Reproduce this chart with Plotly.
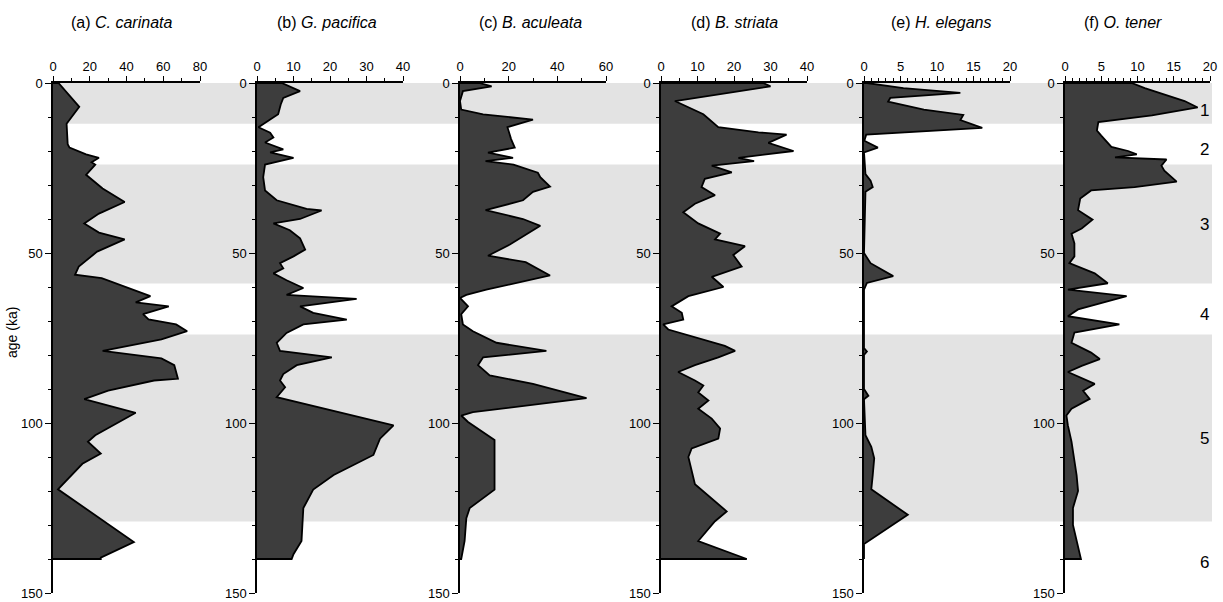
import plotly.graph_objects as go

W, H = 1223, 602

# ---------------- data (age in ka, abundance in %) ----------------
titles = ["(a) <i>C. carinata</i>", "(b) <i>G. pacifica</i>", "(c) <i>B. aculeata</i>",
          "(d) <i>B. striata</i>", "(e) <i>H. elegans</i>", "(f) <i>O. tener</i>"]
x_max = [80, 40, 60, 40, 20, 20]
x_dtick = [20, 10, 20, 10, 5, 5]
x_minor = [10, 5, 10, 5, 1, 1]

a_age = [0, 7, 12, 18, 19, 21, 22, 23.3, 24, 27, 31, 35, 38.4, 41.3, 44, 46, 49.6, 54, 56.4, 57.4,
         60, 62.7, 64.5, 65.7, 68, 69.5, 71, 73, 75.4, 78.8, 81, 83, 87, 87.5, 90.5, 93, 97, 103.6,
         105.5, 109, 112, 119.5, 135, 139.6, 140]
a_val = [3, 14.3, 7.4, 8, 9, 18, 25, 21, 23, 18, 27, 39, 25, 17, 25, 39, 24, 14, 12, 26.5,
         39, 53, 45, 63, 49, 52, 67, 73, 59, 27, 59, 66, 68, 55, 30, 17, 45, 23,
         19, 26, 16, 2.7, 44, 26, 26]

b_age = [0, 2.4, 4.4, 6.3, 9.2, 10.7, 13, 14.6, 16, 17.5, 19.5, 20.4, 22, 24, 27.7, 31.6, 34.5,
         37, 37.5, 40, 41.3, 43.3, 45.7, 49, 51, 53, 54.5, 56, 58, 60.3, 62.3, 63.5, 65.7, 67.6,
         69.6, 71, 73.5, 76.4, 78.8, 80.7, 83, 85.6, 87.5, 89.5, 92.4, 100.7, 104.6, 109.4, 115.3,
         119.6, 125, 134.7, 138.6, 140]
b_val = [6.8, 11.8, 7.2, 6.5, 5.8, 3.6, 0.4, 3.6, 4.5, 2.2, 7.2, 3.6, 10, 2.2, 1.7, 2.2, 5.4,
         13.6, 17.7, 11.8, 4.5, 9, 11.8, 13.2, 10, 6.3, 7.2, 4.5, 8.1, 12.7, 8.1, 27.3, 11.8, 15.4,
         24.6, 12.7, 8.1, 5.4, 6.3, 20.5, 10.9, 7.2, 6.3, 7.7, 5.4, 37.4, 33.7, 31.9, 21,
         15.4, 12.7, 12.2, 10, 9.5]

c_age = [0, 1, 2.4, 5.3, 7.8, 9.2, 10.8, 13, 16.5, 19, 20.5, 22, 23, 24, 26.4, 27.7, 30.5, 32,
         34.5, 37.4, 40, 42, 45, 47.5, 50.8, 52.7, 56.6, 58.5, 60.8, 62.3, 63.2, 65.7, 68, 71, 73,
         76.4, 78.8, 80.7, 83, 86, 88.5, 92.7, 96.8, 97.8, 99.7, 105, 119.6, 125, 128, 134.7, 140]
c_val = [8, 13, 1.2, 0, 0.5, 9.5, 30, 19.5, 21, 22.5, 11.5, 21.8, 10.5, 22, 32, 33, 37, 30,
         25.9, 10.5, 25.9, 33, 26, 20.5, 11.5, 27, 37, 24.5, 10.8, 2.6, 0, 3.3, 0.5, 1.2, 5.3,
         15, 35.5, 9.5, 7.4, 12.2, 30, 52, 5.3, 0.5, 3.3, 14.2, 14.2, 4, 2.6, 1.9, 0.5]

d_age = [0, 1, 5.3, 9.2, 13, 14.5, 15.2, 17.6, 20, 22, 23, 24.3, 26.3, 28.2, 30.6, 33, 35.5, 38,
         41.3, 44.3, 46, 48, 50.6, 54, 57, 60, 62.7, 65.7, 67.6, 69.6, 71, 72.5, 75.4, 77.3, 78.8,
         80.7, 83, 85, 87.5, 89, 91, 93.4, 95.8, 98.7, 101.6, 104.6, 107.5, 110, 118, 126, 128.9,
         134.7, 140]
d_val = [28, 30, 3.8, 11.6, 15.7, 26.7, 34.4, 29.4, 36.3, 21.2, 25.5, 13.9, 19.4, 12, 11.1, 14.8,
         9.3, 6.1, 10.2, 16.2, 14.8, 23, 19.8, 22.1, 13.9, 17.1, 7.5, 2.9, 5.7, 6.1, 0.6, 2, 11.1,
         17.5, 20.3, 15.7, 9.3, 4.7, 9.3, 11.6, 10.2, 13, 10.2, 13.9, 16.2, 15.7, 8.4, 7.5, 9.3,
         18, 14.8, 10.2, 23.5]

e_age = [0, 1.5, 2.9, 4.4, 5.5, 7.8, 9.4, 10.9, 13.2, 15.2, 17, 19, 20.4, 26.8, 28.7, 30.6, 32,
         50, 53, 56.8, 58.8, 60.8, 78, 79, 80, 90, 92, 93, 103.6, 107, 110.4, 115.3, 119.5, 127,
         135.6, 140]
e_val = [0.4, 5.4, 13.2, 3.6, 3.3, 8.2, 13.6, 13.2, 16.2, 0.3, 0.05, 1.9, 0, 0.2, 0.9, 1.2, 0.2,
         0, 0.9, 4, 0.4, 0, 0, 0.4, 0, 0, 0.6, 0, 0.2, 1.0, 1.4, 1.2, 1.0, 6.0,
         0, 0]

f_age = [0, 1.5, 5.3, 7.2, 9.5, 11.5, 14, 15.5, 17.5, 18.8, 20, 21, 21.9, 22.5, 24.3, 25.8, 29,
         30.6, 31.6, 34, 37.4, 40.2, 42.8, 44.3, 47.2, 51, 53, 56, 58.9, 60.8, 62.7, 66.6, 68.6,
         71, 73.4, 76.4, 79.3, 81.2, 83.2, 85, 88.5, 90.5, 92.9, 95.8, 97.8, 100.7, 105.5, 115.3,
         120, 125, 130, 134.7, 138.6, 140]
f_val = [9.2, 11, 16.5, 18.3, 12, 4.6, 4.4, 5, 5.9, 6.4, 8.7, 9.9, 6.9, 14, 13.3, 13.7, 15.4,
         9.6, 3.6, 2.1, 1.8, 3.8, 2.3, 0.9, 1.3, 1.3, 0.6, 4.1, 5.9, 0.4, 8.5, 1.8, 0.4,
         7.5, 1.3, 0.9, 3.6, 4.8, 2.3, 0.4, 4.1, 2.5, 3.4, 0.9, 0.2, 0.4, 0.9, 1.6,
         1.8, 1.1, 1.1, 1.6, 2, 2.2]

ages = [a_age, b_age, c_age, d_age, e_age, f_age]
vals = [a_val, b_val, c_val, d_val, e_val, f_val]

# marine isotope stages: shaded intervals and stage labels
band_start = [0, 24, 74]
band_end = [12, 59, 129]
stage_labels = ["1", "2", "3", "4", "5", "6"]
stage_ages = [8, 19.5, 41.5, 68, 104.5, 141]

# ---------------- layout geometry (pixels) ----------------
panel_left = [53, 257, 460, 661, 864, 1065]
panel_right = [200, 403, 606, 807, 1010, 1210]
title_x = [121, 327, 530, 734, 941, 1123]
top_px, bot_px = 83, 593

FONT = "Liberation Sans, Arial, Helvetica, sans-serif"
FILL = "#3d3d3d"
BAND = "#e3e3e3"

fig = go.Figure()
layout = dict(
    width=W, height=H, margin=dict(l=0, r=0, t=0, b=0, autoexpand=False),
    paper_bgcolor="white", plot_bgcolor="rgba(0,0,0,0)",
    showlegend=False, font=dict(family=FONT, size=13, color="black"),
)

ydom = [1 - bot_px / H, 1 - top_px / H]
for i in range(6):
    n = "" if i == 0 else str(i + 1)
    xs = [0] + vals[i] + [0]
    ys = [ages[i][0]] + ages[i] + [ages[i][-1]]
    fig.add_trace(go.Scatter(
        x=xs, y=ys, mode="lines", fill="toself", fillcolor=FILL,
        line=dict(color="black", width=1.8), xaxis="x" + n, yaxis="y" + n,
        hoverinfo="skip"))
    layout["xaxis" + n] = dict(
        domain=[panel_left[i] / W, panel_right[i] / W], range=[0, x_max[i]],
        side="top", anchor="y" + n, showline=True, linecolor="black", linewidth=1.5,
        ticks="outside", ticklen=5, tickwidth=1.2, tickcolor="black", dtick=x_dtick[i],
        tick0=0, minor=dict(dtick=x_minor[i], ticks="outside", ticklen=3, tickwidth=1,
                            tickcolor="black"),
        showgrid=False, zeroline=False, tickfont=dict(size=13, family=FONT),
        ticklabeloverflow="allow", automargin=False, fixedrange=True)
    layout["yaxis" + n] = dict(
        domain=ydom, range=[150, 0], anchor="x" + n, side="left",
        showline=True, linecolor="black", linewidth=1.5,
        ticks="outside", ticklen=6, tickwidth=1.2, tickcolor="black", dtick=50, tick0=0,
        minor=dict(dtick=10, ticks="outside", ticklen=3, tickwidth=1, tickcolor="black"),
        showgrid=False, zeroline=False, tickfont=dict(size=13, family=FONT),
        ticklabeloverflow="allow", automargin=False, fixedrange=True)

shapes = []
for s, e in zip(band_start, band_end):
    shapes.append(dict(type="rect", xref="paper", yref="y", x0=53 / W, x1=1212 / W,
                       y0=s, y1=e, fillcolor=BAND, line=dict(width=0), layer="below"))
layout["shapes"] = shapes

ann = []
for i in range(6):
    ann.append(dict(text=titles[i], x=title_x[i] / W, y=1 - 22 / H, xref="paper", yref="paper",
                    showarrow=False, xanchor="center", yanchor="middle",
                    font=dict(size=16, family=FONT)))
for lab, ag in zip(stage_labels, stage_ages):
    ann.append(dict(text=lab, x=1204 / W, y=ag, xref="paper", yref="y6", showarrow=False,
                    xanchor="center", yanchor="middle", font=dict(size=17, family=FONT)))
ann.append(dict(text="age (ka)", x=12 / W, y=1 - 333 / H, xref="paper", yref="paper",
                showarrow=False, textangle=-90, xanchor="center", yanchor="middle",
                font=dict(size=14, family=FONT)))
layout["annotations"] = ann

fig.update_layout(**layout)
fig.write_html("out.html")
